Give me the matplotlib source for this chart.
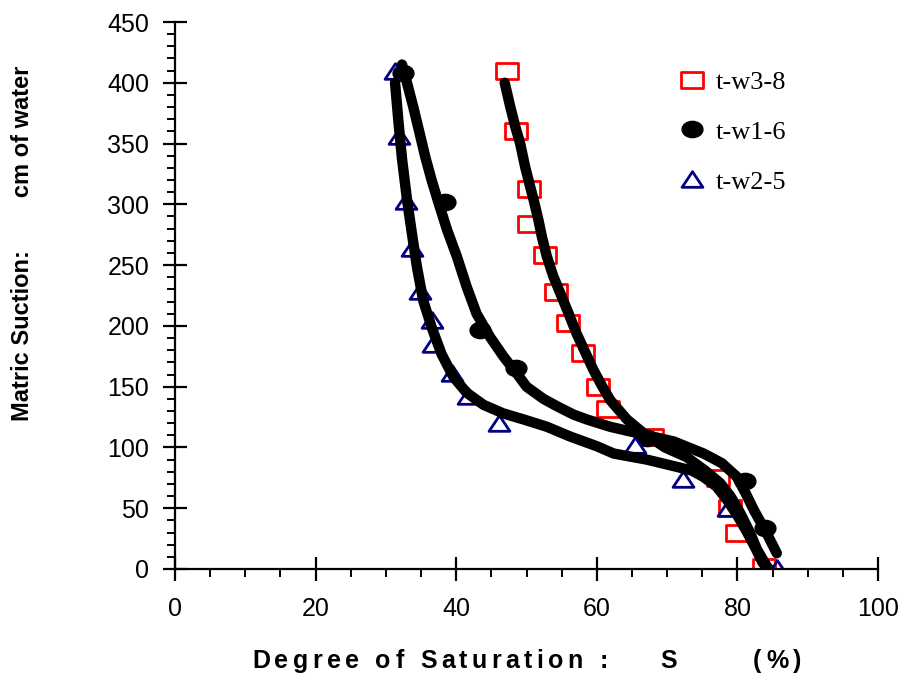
"""soil water retention curves - degree of saturation vs matric suction"""
import matplotlib
matplotlib.use("Agg")
import matplotlib.pyplot as plt
from matplotlib.path import Path
from matplotlib.transforms import Affine2D, IdentityTransform
from matplotlib.ticker import MultipleLocator

s_w38 = [47.2, 48.5, 50.3, 50.3, 52.6, 54.2, 55.9, 58.1, 60.2, 61.6, 67.8, 77.2, 79.0, 80.0, 83.8]
h_w38 = [410, 360, 313, 284, 258, 228, 202, 178, 150, 132, 109, 75, 50, 30, 2]

s_w16 = [32.4, 38.4, 43.4, 48.5, 67.1, 81.1, 83.9]
h_w16 = [408, 302, 197, 165, 107.5, 72, 34]

s_w25 = [31.3, 31.8, 32.9, 33.7, 34.8, 36.5, 36.7, 39.4, 41.7, 46.1, 65.5, 72.3, 78.7, 85.6]
h_w25 = [410, 356, 303, 264, 229, 205, 185, 161, 142, 120, 102, 74, 50, 1]

# fitted curves
fit_s_w38 = [46.9, 47.7, 48.4, 49.1, 49.8, 50.5, 51.0, 51.7, 52.2, 52.9, 53.8, 54.8, 56.0,
             57.1, 58.3, 59.5, 60.7, 61.9, 64.3, 66.6, 69.7, 72.8, 75.4, 77.5, 79.0, 80.4,
             81.7, 82.8, 84.2]
fit_h_w38 = [400, 380, 364, 350, 331, 315, 304, 287, 273, 257, 241, 227, 210,
             194, 179, 164, 151, 139, 123, 112, 100, 92, 81, 71, 60, 46,
             31, 16, 2]

fit_s_w16 = [32.3, 33.0, 33.9, 34.9, 35.6, 36.5, 37.5, 38.7, 40.1, 41.5, 42.9, 44.8, 46.7,
             48.6, 50.0, 52.4, 54.3, 56.7, 58.6, 61.9, 67.1, 70.9, 75.2, 77.8, 79.9, 81.2,
             82.3, 84.2, 85.6]
fit_h_w16 = [415, 400, 380, 356, 339, 320, 301, 279, 257, 232, 210, 191, 175,
             161, 150, 140, 134, 127, 123, 117, 110, 105, 95, 87, 76, 62,
             49, 29, 13]

fit_s_w25 = [31.3, 31.8, 32.3, 33.0, 33.7, 34.4, 35.3, 36.5, 37.9, 39.6, 41.5, 43.9, 46.7,
             49.6, 52.9, 56.2, 60.0, 62.4, 67.1, 71.4, 73.5, 75.1, 77.0, 78.5, 80.0, 81.4,
             82.5, 83.6, 84.5]
fit_h_w25 = [400, 367, 337, 304, 276, 249, 221, 199, 177, 158, 145, 135, 128,
             123, 117, 109, 101, 95, 90, 84, 81, 76, 68, 57, 44, 30,
             18, 5, 0]

rect = Path([(-1, -0.7), (1, -0.7), (1, 0.7), (-1, 0.7), (-1, -0.7)],
            [Path.MOVETO, Path.LINETO, Path.LINETO, Path.LINETO, Path.CLOSEPOLY])
oval = Path.unit_circle().transformed(Affine2D().scale(1, 0.78))
tri = Path([(0, 0.75), (-1, -0.75), (1, -0.75), (0, 0.75)],
           [Path.MOVETO, Path.LINETO, Path.LINETO, Path.CLOSEPOLY])

plt.rcParams['font.family'] = ['Liberation Sans', 'DejaVu Sans']

W, H = 906, 676
fig = plt.figure(figsize=(W / 100, H / 100), dpi=100)
ax = fig.add_axes([175 / W, 1 - 569 / H, 703 / W, 547 / H])

ax.plot(s_w38, h_w38, ls='none', marker=rect, ms=16, mfc='none', mec='red', mew=2,
        label='t-w3-8', zorder=2)
ax.plot(s_w16, h_w16, ls='none', marker=oval, ms=15, mfc='black', mec='black',
        label='t-w1-6', zorder=2)
ax.plot(s_w25, h_w25, ls='none', marker=tri, ms=15, mfc='none', mec='navy', mew=2,
        label='t-w2-5', zorder=2)

for xs, ys in [(fit_s_w38, fit_h_w38), (fit_s_w16, fit_h_w16), (fit_s_w25, fit_h_w25)]:
    ax.plot(xs, ys, color='black', lw=7.5, solid_capstyle='round',
            solid_joinstyle='round', zorder=3)

ax.set_xlim(0, 100)
ax.set_ylim(0, 450)
ax.xaxis.set_major_locator(MultipleLocator(20))
ax.xaxis.set_minor_locator(MultipleLocator(5))
ax.yaxis.set_major_locator(MultipleLocator(50))
ax.yaxis.set_minor_locator(MultipleLocator(10))

for side in ['top', 'right']:
    ax.spines[side].set_visible(False)
for side in ['left', 'bottom']:
    ax.spines[side].set_linewidth(1.6)

ax.tick_params(which='major', direction='inout', length=17, width=1.6, labelsize=18)
ax.tick_params(which='minor', direction='out', length=6, width=1.4)
ax.tick_params(axis='x', which='major', pad=12)
ax.tick_params(axis='y', which='major', pad=10)

ax.set_ylabel('Matric Suction:        cm of water', fontsize=17, fontweight='bold',
              va='center')
ax.yaxis.set_label_coords(-0.2176, 0.595)

# x label is letter-spaced in the original, so place it glyph by glyph
xlabel = 'Degree of Saturation :    S      (%)'
renderer = fig.canvas.get_renderer()
x_px = 252
for ch in xlabel:
    if ch == ' ':
        x_px += 12
        continue
    t = fig.text(x_px, H - 668, ch, fontsize=18, fontweight='bold', ha='left',
                 va='baseline', transform=IdentityTransform())
    x_px += t.get_window_extent(renderer).width + 4.4

ax.legend(loc='upper left', bbox_to_anchor=(0.683, 0.955), frameon=False,
          prop={'family': 'Liberation Serif', 'size': 19}, handlelength=1.0,
          handletextpad=0.4, labelspacing=1.0, numpoints=1)

fig.savefig('out.png', dpi=100)
